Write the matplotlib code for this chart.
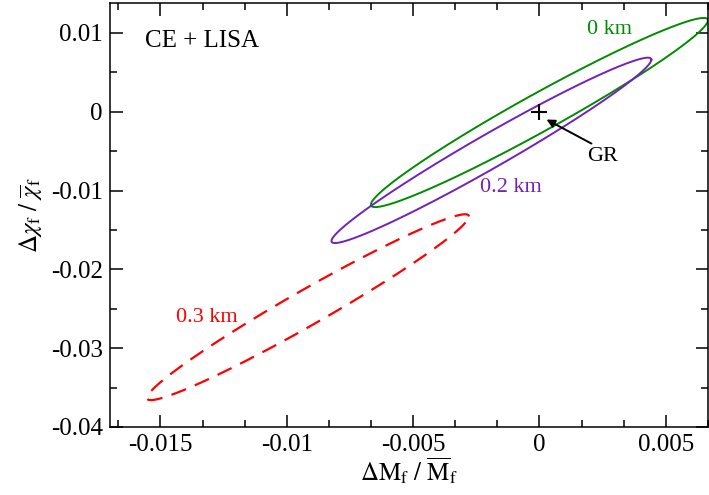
import numpy as np
import matplotlib
matplotlib.use("Agg")
import matplotlib.pyplot as plt

# Ellipse parameters
labels = ["0 km", "0.2 km", "0.3 km"]
center_x = [0.0, -0.0019, -0.00916]
center_y = [-0.0001, -0.0049, -0.0248]
sigma_x = [0.00667, 0.00633, 0.00637]
sigma_y = [0.0120, 0.01176, 0.01179]
rho = [0.974, 0.978, 0.976]
colors = ["#008b00", "#7221bc", "#ff0000"]
styles = ["solid", "solid", "dashed"]

label_pos_x = [0.00277, -0.00111, -0.01316]
label_pos_y = [0.01046, -0.00962, -0.02615]

gr_x = [0.0]
gr_y = [0.0]

xticks = [-0.015, -0.01, -0.005, 0, 0.005]
xticklabels = ["-0.015", "-0.01", "-0.005", "0", "0.005"]
yticks = [-0.04, -0.03, -0.02, -0.01, 0, 0.01]
yticklabels = ["-0.04", "-0.03", "-0.02", "-0.01", "0", "0.01"]

plt.rcParams["font.family"] = ["Liberation Serif", "DejaVu Serif"]
plt.rcParams["mathtext.fontset"] = "stix"

fig = plt.figure(figsize=(7.09, 4.95), dpi=100)
ax = fig.add_axes([0.155, 0.1374, 0.8435, 0.8566])

t = np.linspace(0, 2 * np.pi, 600)
for cx, cy, sx, sy, r, c, ls in zip(center_x, center_y, sigma_x, sigma_y, rho, colors, styles):
    x = cx + sx * np.cos(t)
    y = cy + sy * (r * np.cos(t) + np.sqrt(1 - r ** 2) * np.sin(t))
    line, = ax.plot(x, y, color=c, lw=1.4)
    if ls == "dashed":
        line.set_dashes((7, 4.3))
        line.set_linewidth(1.6)

for lab, lx, ly, c in zip(labels, label_pos_x, label_pos_y, colors):
    ax.text(lx, ly, lab, color=c, fontsize=16, ha="center", va="center")

ax.plot(gr_x, gr_y, marker="+", color="black", markersize=11, mew=1.5, ls="none")
ax.annotate("", xy=(0.00028, -0.00099), xytext=(0.00206, -0.00404),
            arrowprops=dict(arrowstyle="-|>", color="black", lw=1.4,
                            mutation_scale=12, shrinkA=0, shrinkB=0))
ax.text(0.00249, -0.00568, "GR", fontsize=16, ha="center", va="center")

ax.text(-0.01561, 0.00893, "CE + LISA", fontsize=18, ha="left", va="center")

ax.set_xlim(-0.017, 0.00667)
ax.set_ylim(-0.04, 0.0138)
ax.set_xticks(xticks)
ax.set_xticklabels(xticklabels)
ax.set_yticks(yticks)
ax.set_yticklabels(yticklabels)
ax.set_xticks(np.arange(-0.0166667, 0.0067, 0.005 / 3), minor=True)
ax.set_yticks(np.arange(-0.04, 0.0138, 0.005), minor=True)
ax.tick_params(which="both", direction="in", top=True, right=True, width=1.1,
               labelsize=18)
ax.tick_params(which="major", length=9, pad=5)
ax.tick_params(which="minor", length=5)
for s in ax.spines.values():
    s.set_linewidth(1.1)

ax.set_xlabel(r"$\Delta\mathrm{M}_\mathrm{f}\ /\ \overline{\mathrm{M}}_\mathrm{f}$", fontsize=18, labelpad=0)
ax.set_ylabel(r"$\Delta\chi_\mathrm{f}\ /\ \overline{\chi}_\mathrm{f}$", fontsize=18, labelpad=4)

fig.savefig("out.png", dpi=100)
